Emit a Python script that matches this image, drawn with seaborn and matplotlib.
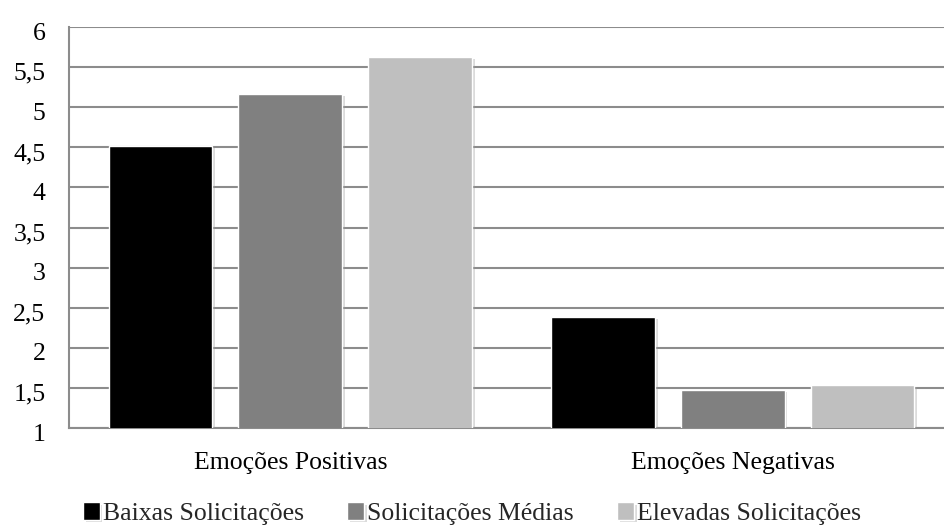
import pandas as pd
import seaborn as sns
import matplotlib
matplotlib.use("Agg")
import matplotlib.pyplot as plt
from matplotlib import ticker
from matplotlib.transforms import ScaledTranslation
import matplotlib.patheffects as pe

categories = ["Emoções Positivas", "Emoções Negativas"]
groups = ["Baixas Solicitações", "Solicitações Médias", "Elevadas Solicitações"]
baixas = [4.52, 2.39]
medias = [5.17, 1.48]
elevadas = [5.63, 1.54]
colors = ["#000000", "#808080", "#bfbfbf"]

rows = []
for g, vals in zip(groups, [baixas, medias, elevadas]):
    for c, v in zip(categories, vals):
        rows.append({"cat": c, "grupo": g, "valor": v})
df = pd.DataFrame(rows)

sns.set_style("white")
plt.rcParams["font.family"] = ["Liberation Serif", "DejaVu Serif"]
fs = 18.5

fig = plt.figure(figsize=(9.44, 5.27), dpi=100)
ax = fig.add_axes([69/944, 99/527, 885/944, 401/527])

sns.barplot(data=df, x="cat", y="valor", hue="grupo", palette=colors,
            width=0.88, gap=0.2, ax=ax, zorder=3, legend=True)
for p in ax.patches:
    p.set_path_effects([pe.SimplePatchShadow(offset=(2, -2), shadow_rgbFace="#999999", alpha=0.35),
                        pe.Normal()])

ax.set_ylim(1, 6)
ax.set_xlim(-0.5, 1.5)
ax.yaxis.set_major_locator(ticker.MultipleLocator(0.5))
ax.yaxis.set_major_formatter(ticker.FuncFormatter(lambda v, _: f"{v:g}".replace(".", ",")))
ax.yaxis.grid(True, color="#8c8c8c", linewidth=1.5, zorder=0)
ax.set_axisbelow(True)
for s in ["top", "right"]:
    ax.spines[s].set_visible(False)
for s in ["left", "bottom"]:
    ax.spines[s].set_color("#8c8c8c")
    ax.spines[s].set_linewidth(1.5)
ax.tick_params(axis="both", length=0, labelsize=fs, colors="black")
ax.tick_params(axis="y", pad=17)
ax.tick_params(axis="x", pad=17)
ax.set_xlabel("")
ax.set_ylabel("")
for lab in ax.get_yticklabels():
    lab.set_transform(lab.get_transform() + ScaledTranslation(0, -3/72, fig.dpi_scale_trans))

handles, labels = ax.get_legend_handles_labels()
ax.get_legend().remove()
fig.legend(handles, labels, loc="lower center", bbox_to_anchor=(0.5, -0.04), ncol=3,
           frameon=False, fontsize=fs, handlelength=0.65, handleheight=0.65,
           handletextpad=0.12, columnspacing=1.7)

fig.savefig("out.png", dpi=100)
